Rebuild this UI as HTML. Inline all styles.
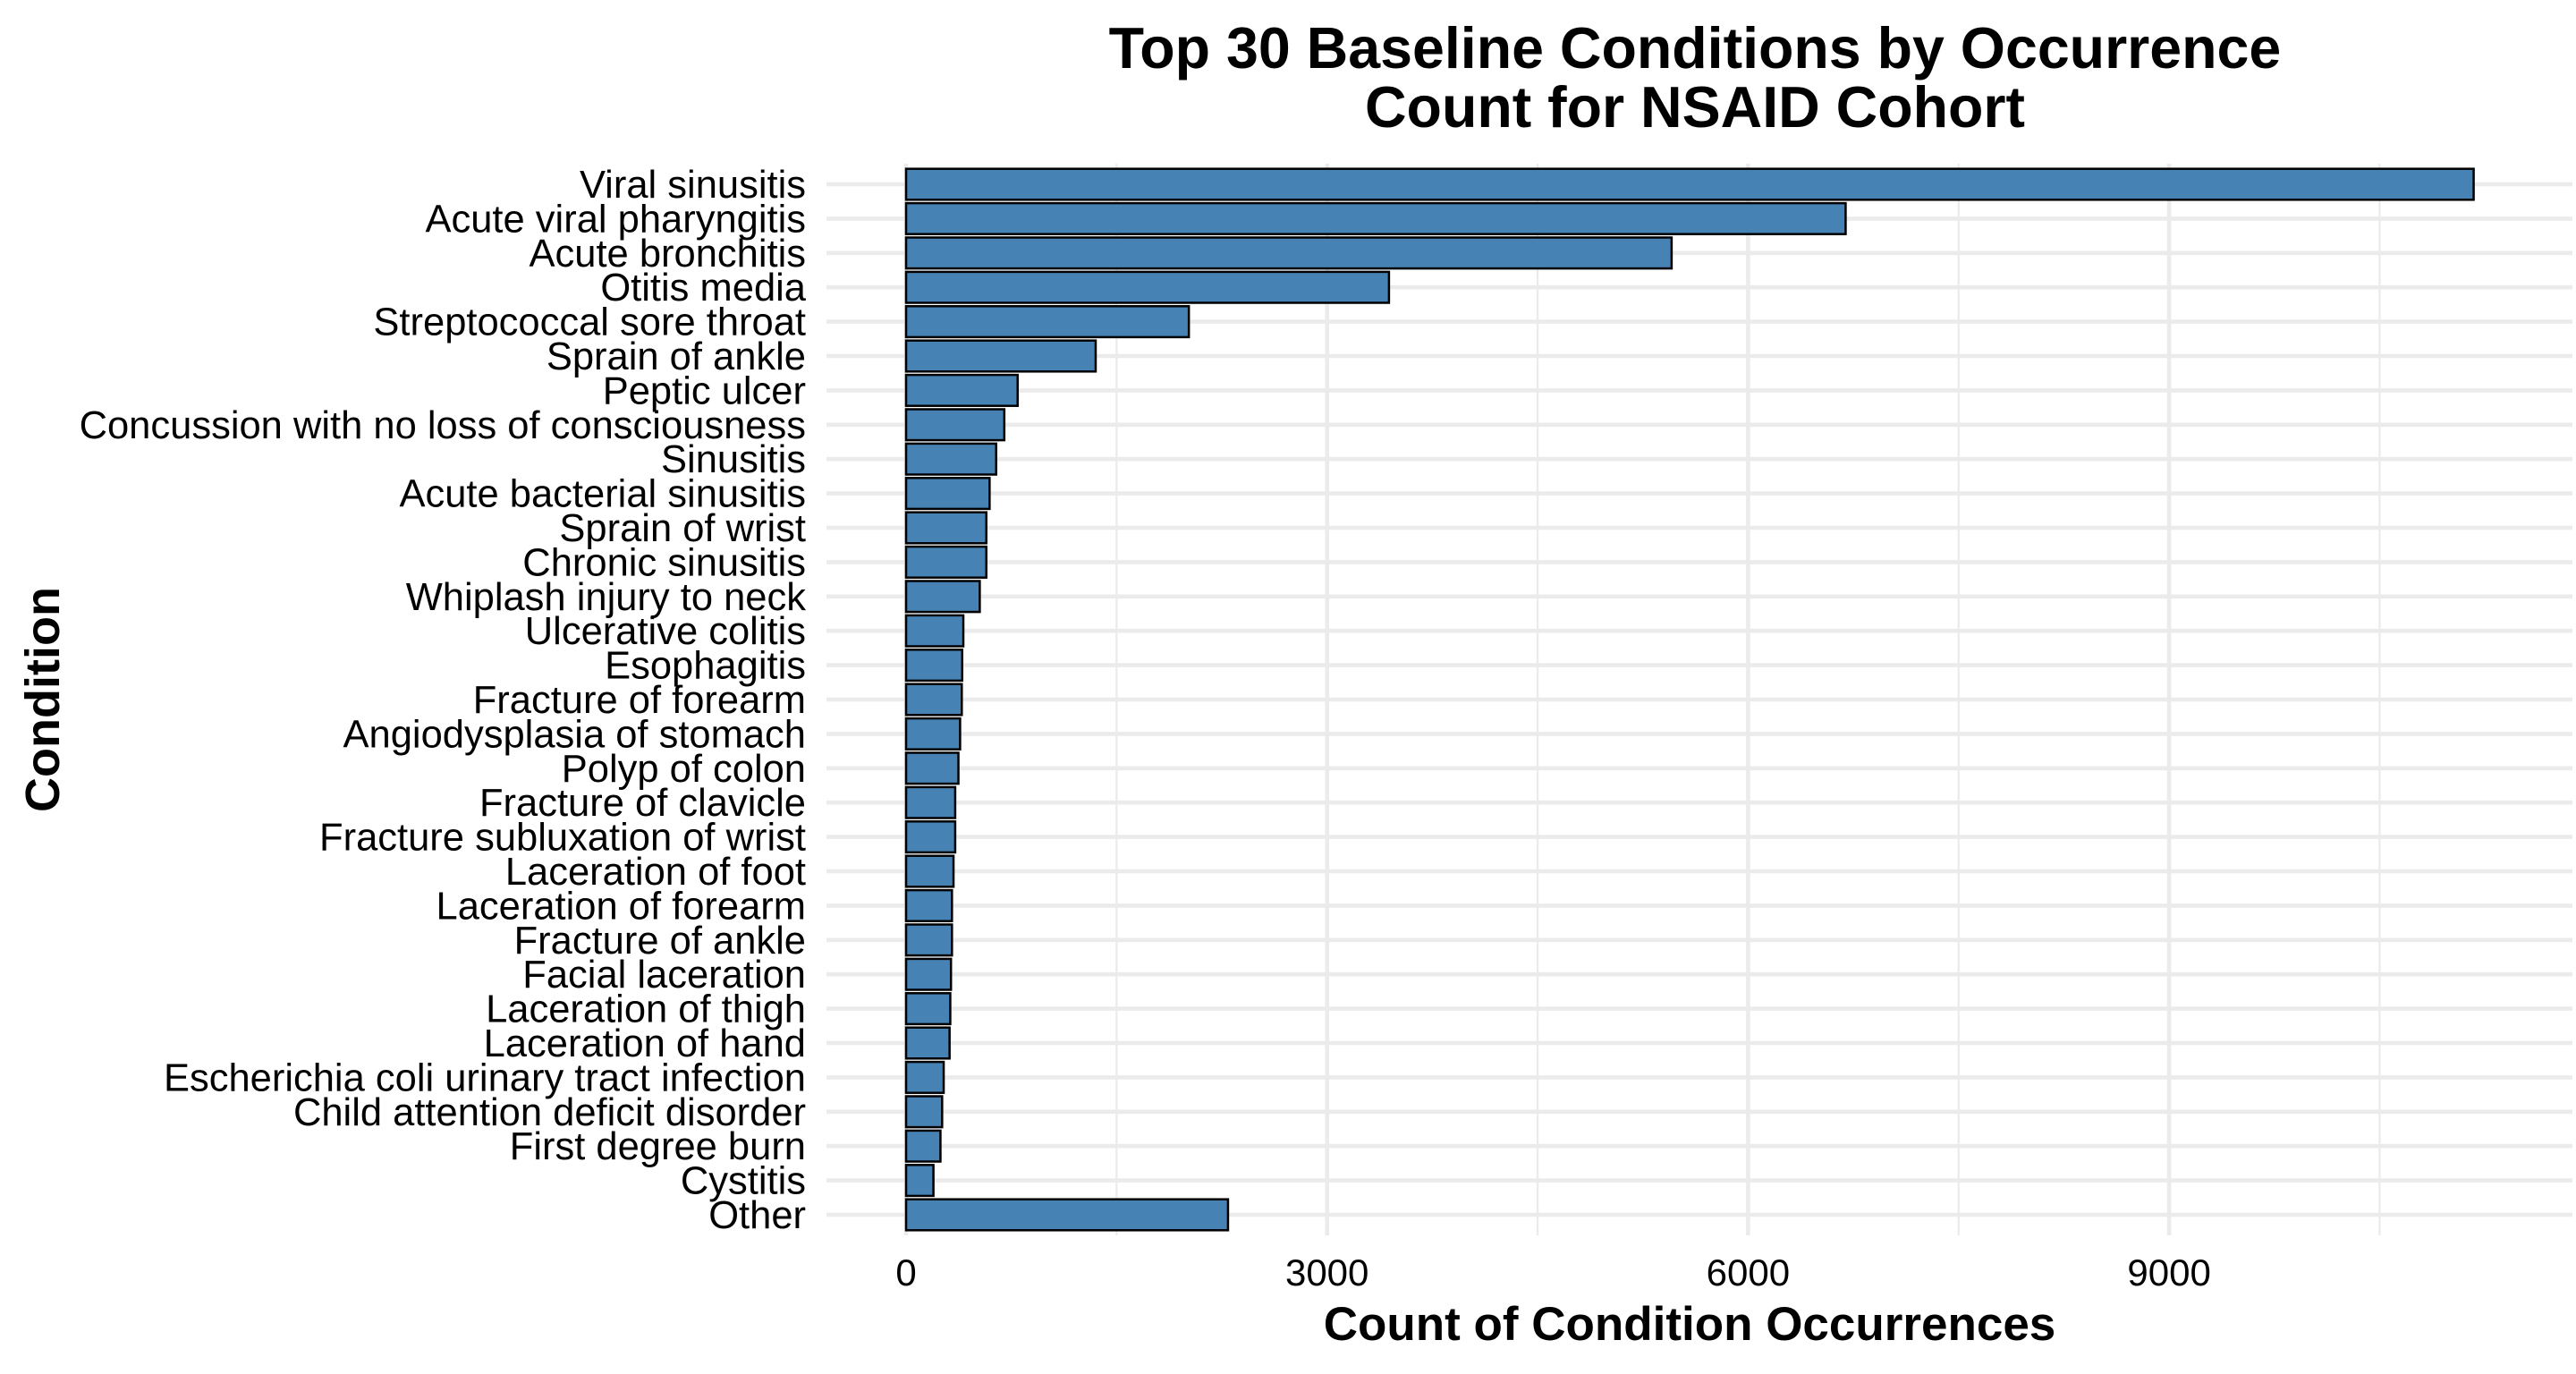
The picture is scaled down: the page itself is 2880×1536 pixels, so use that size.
<!DOCTYPE html>
<html><head><meta charset="utf-8"><style>
html,body{margin:0;padding:0;background:#fff;}
svg{display:block;font-family:"Liberation Sans",Arial,sans-serif;}
</style></head><body>
<svg id="chart" width="2880" height="1536" viewBox="0 0 2880 1536" xmlns="http://www.w3.org/2000/svg">
<rect width="2880" height="1536" fill="#fff"/>
<g id="grid"></g>
<g id="bars"></g>
<g id="ylabels"></g>
<g id="xlabels"></g>
<text x="1895" y="76" text-anchor="middle" font-size="64.5" font-weight="bold">Top 30 Baseline Conditions by Occurrence</text>
<text x="1895" y="142" text-anchor="middle" font-size="64.5" font-weight="bold">Count for NSAID Cohort</text>
<text x="1889" y="1498" text-anchor="middle" font-size="53" font-weight="bold">Count of Condition Occurrences</text>
<text x="0" y="0" transform="translate(66,782) rotate(-90)" text-anchor="middle" font-size="54" font-weight="bold">Condition</text>
</svg>
<script>
const categories = ["Viral sinusitis","Acute viral pharyngitis","Acute bronchitis","Otitis media","Streptococcal sore throat","Sprain of ankle","Peptic ulcer","Concussion with no loss of consciousness","Sinusitis","Acute bacterial sinusitis","Sprain of wrist","Chronic sinusitis","Whiplash injury to neck","Ulcerative colitis","Esophagitis","Fracture of forearm","Angiodysplasia of stomach","Polyp of colon","Fracture of clavicle","Fracture subluxation of wrist","Laceration of foot","Laceration of forearm","Fracture of ankle","Facial laceration","Laceration of thigh","Laceration of hand","Escherichia coli urinary tract infection","Child attention deficit disorder","First degree burn","Cystitis","Other"];
const counts = [11170,6695,5455,3441,2015,1351,795,700,642,595,572,572,525,408,400,397,385,373,350,350,338,327,327,320,315,310,268,257,245,195,2294];
const xTicks = [0,3000,6000,9000];
const xTickLabels = ["0","3000","6000","9000"];
const xMinor = [1500,4500,7500,10500];

const NS="http://www.w3.org/2000/svg";
const x0=1013, pxPerUnit=0.1569, panelL=924, panelR=2876, panelT=183, panelB=1381;
const rowTop=206, rowStep=38.4, barH=34.6;
function xs(v){return x0+v*pxPerUnit;}
function ys(i){return rowTop+i*rowStep;}
function mk(tag,attrs,parent){const e=document.createElementNS(NS,tag);for(const k in attrs)e.setAttribute(k,attrs[k]);parent.appendChild(e);return e;}
const grid=document.getElementById('grid'),bars=document.getElementById('bars'),yl=document.getElementById('ylabels'),xl=document.getElementById('xlabels');
xMinor.forEach(v=>{const l=mk('line',{x1:xs(v),x2:xs(v),y1:panelT,y2:panelB,stroke:'#ebebeb','stroke-width':2.3},grid);

});
xTicks.forEach((v,i)=>{const l=mk('line',{x1:xs(v),x2:xs(v),y1:panelT,y2:panelB,stroke:'#ebebeb','stroke-width':4.6},grid);


const t=mk('text',{x:xs(v),y:1437,'text-anchor':'middle','font-size':42,fill:'#000'},xl);t.textContent=xTickLabels[i];

});
categories.forEach((c,i)=>{const y=ys(i);
const g=mk('line',{x1:panelL,x2:panelR,y1:y,y2:y,stroke:'#ebebeb','stroke-width':4.6},grid);


const r=mk('rect',{x:xs(0),y:y-barH/2,width:xs(counts[i])-xs(0),height:barH,fill:'#4682b4',stroke:'#000','stroke-width':2.5},bars);


const t=mk('text',{x:901,y:y+15,'text-anchor':'end','font-size':43.5,fill:'#000'},yl);t.textContent=c;

});
</script>
</body></html>
